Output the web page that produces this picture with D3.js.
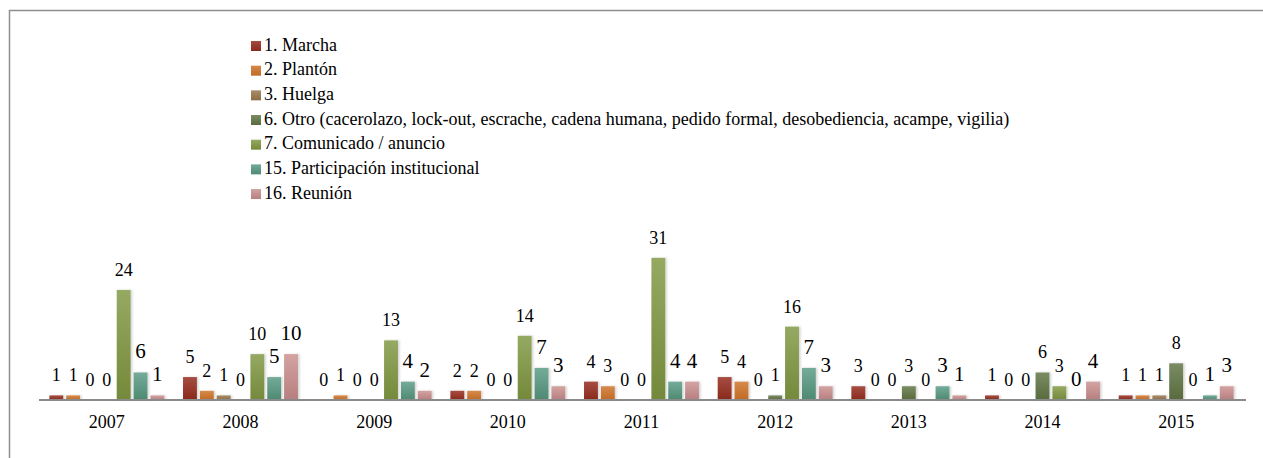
<!DOCTYPE html>
<html>
<head>
<meta charset="utf-8">
<script src="https://cdn.jsdelivr.net/npm/d3@7"></script>
<style>
  body { margin: 0; background: #fff; }
</style>
</head>
<body>
<svg id="chart" width="1263" height="458" font-family="Liberation Serif"></svg>
<script>
var years = ["2007", "2008", "2009", "2010", "2011", "2012", "2013", "2014", "2015"];

var seriesNames = [
  "1. Marcha",
  "2. Plantón",
  "3. Huelga",
  "6. Otro (cacerolazo, lock-out, escrache, cadena humana, pedido formal, desobediencia, acampe, vigilia)",
  "7. Comunicado / anuncio",
  "15. Participación institucional",
  "16. Reunión"
];

// one array per series, one value per year
var marcha      = [1, 5, 0, 2, 4, 5, 3, 1, 1];
var planton     = [1, 2, 1, 2, 3, 4, 0, 0, 1];
var huelga      = [0, 1, 0, 0, 0, 0, 0, 0, 1];
var otro        = [0, 0, 0, 0, 0, 1, 3, 6, 8];
var comunicado  = [24, 10, 13, 14, 31, 16, 0, 3, 0];
var participa   = [6, 5, 4, 7, 4, 7, 3, 0, 1];
var reunion     = [1, 10, 2, 3, 4, 3, 1, 4, 3];

var seriesValues = [marcha, planton, huelga, otro, comunicado, participa, reunion];

// top / bottom gradient colours
var topColors    = ["#a64c42", "#d68a4c", "#a88c6a", "#7a8c62", "#95a962", "#74ab9a", "#d3a3a2"];
var bottomColors = ["#8a2a1b", "#c06a22", "#8c6e45", "#586a3d", "#74893a", "#4e8971", "#b77f7f"];

var FONT = "Liberation Serif";

var svg = d3.select("#chart");

var base = 400;

var x0 = d3.scaleBand()
    .domain(years)
    .range([40, 1243])
    .paddingInner(0.14)
    .paddingOuter(0.07);

var x1 = d3.scaleBand()
    .domain(d3.range(seriesNames.length))
    .range([0, x0.bandwidth()])
    .paddingInner(0.176);

var y = d3.scaleLinear()
    .domain([0, 35])
    .range([base, base - 35 * 4.585]);

// outer frame
svg.append("rect")
    .attr("x", 9.5)
    .attr("y", 10.5)
    .attr("width", 1300)
    .attr("height", 500)
    .attr("fill", "none")
    .attr("stroke", "#8f8f8f")
    .attr("stroke-width", 1.5);

var defs = svg.append("defs");
seriesNames.forEach(function(s, i) {
  var g = defs.append("linearGradient")
      .attr("id", "grad" + i)
      .attr("x1", 0).attr("y1", 0)
      .attr("x2", 0).attr("y2", 1);
  g.append("stop").attr("offset", "0%").attr("stop-color", topColors[i]);
  g.append("stop").attr("offset", "100%").attr("stop-color", bottomColors[i]);
});

var shadow = defs.append("filter")
    .attr("id", "shadow")
    .attr("x", "-30%").attr("y", "-10%")
    .attr("width", "160%").attr("height", "130%");
shadow.append("feDropShadow")
    .attr("dx", 1.5).attr("dy", 0)
    .attr("stdDeviation", 1.2)
    .attr("flood-color", "#000")
    .attr("flood-opacity", 0.18);

// build rows for the bars
var rows = [];
years.forEach(function(yr, yi) {
  seriesValues.forEach(function(vals, si) {
    rows.push({year: yr, s: si, v: vals[yi]});
  });
});

svg.append("g").attr("class", "bars").selectAll("rect")
    .data(rows.filter(function(d) { return d.v > 0; }))
  .enter().append("rect")
    .attr("x", function(d) { return x0(d.year) + x1(d.s); })
    .attr("y", function(d) { return y(d.v); })
    .attr("width", x1.bandwidth())
    .attr("height", function(d) { return y(0) - y(d.v); })
    .attr("fill", function(d) { return "url(#grad" + d.s + ")"; })
    .attr("filter", "url(#shadow)");

// axis line
svg.append("line")
    .attr("x1", 39)
    .attr("x2", 1246)
    .attr("y1", y(0))
    .attr("y2", y(0))
    .attr("stroke", "#8a8a8a")
    .attr("stroke-width", 2);

// value labels
svg.append("g").selectAll("text")
    .data(rows)
  .enter().append("text")
    .attr("x", function(d) { return x0(d.year) + x1(d.s) + x1.bandwidth() / 2; })
    .attr("y", function(d) { return y(d.v) - 14; })
    .attr("text-anchor", "middle")
    .attr("font-family", FONT)
    .attr("font-size", function(d) { return d.s >= 5 ? 21 : 18; })
    .attr("fill", "#000")
    .text(function(d) { return d.v; });

// year labels
var xAxis = d3.axisBottom(x0).tickSize(0).tickPadding(0);
var ax = svg.append("g")
    .attr("transform", "translate(0," + y(0) + ")")
    .call(xAxis)
    .attr("font-family", FONT)
    .attr("font-size", 18);
ax.select(".domain").remove();
ax.selectAll("text")
    .attr("dy", 0)
    .attr("y", 28)
    .attr("fill", "#000");

// legend
var item = svg.append("g").attr("class", "legend").selectAll("g")
    .data(seriesNames)
  .enter().append("g")
    .attr("transform", function(d, i) { return "translate(251," + (41 + i * 24.67) + ")"; });

item.append("rect")
    .attr("width", 10)
    .attr("height", 10)
    .attr("fill", function(d, i) { return "url(#grad" + i + ")"; });

item.append("text")
    .attr("x", 13)
    .attr("y", 9.7)
    .attr("font-family", FONT)
    .attr("font-size", 18)
    .attr("fill", "#000")
    .text(function(d) { return d; });
</script>
</body>
</html>
